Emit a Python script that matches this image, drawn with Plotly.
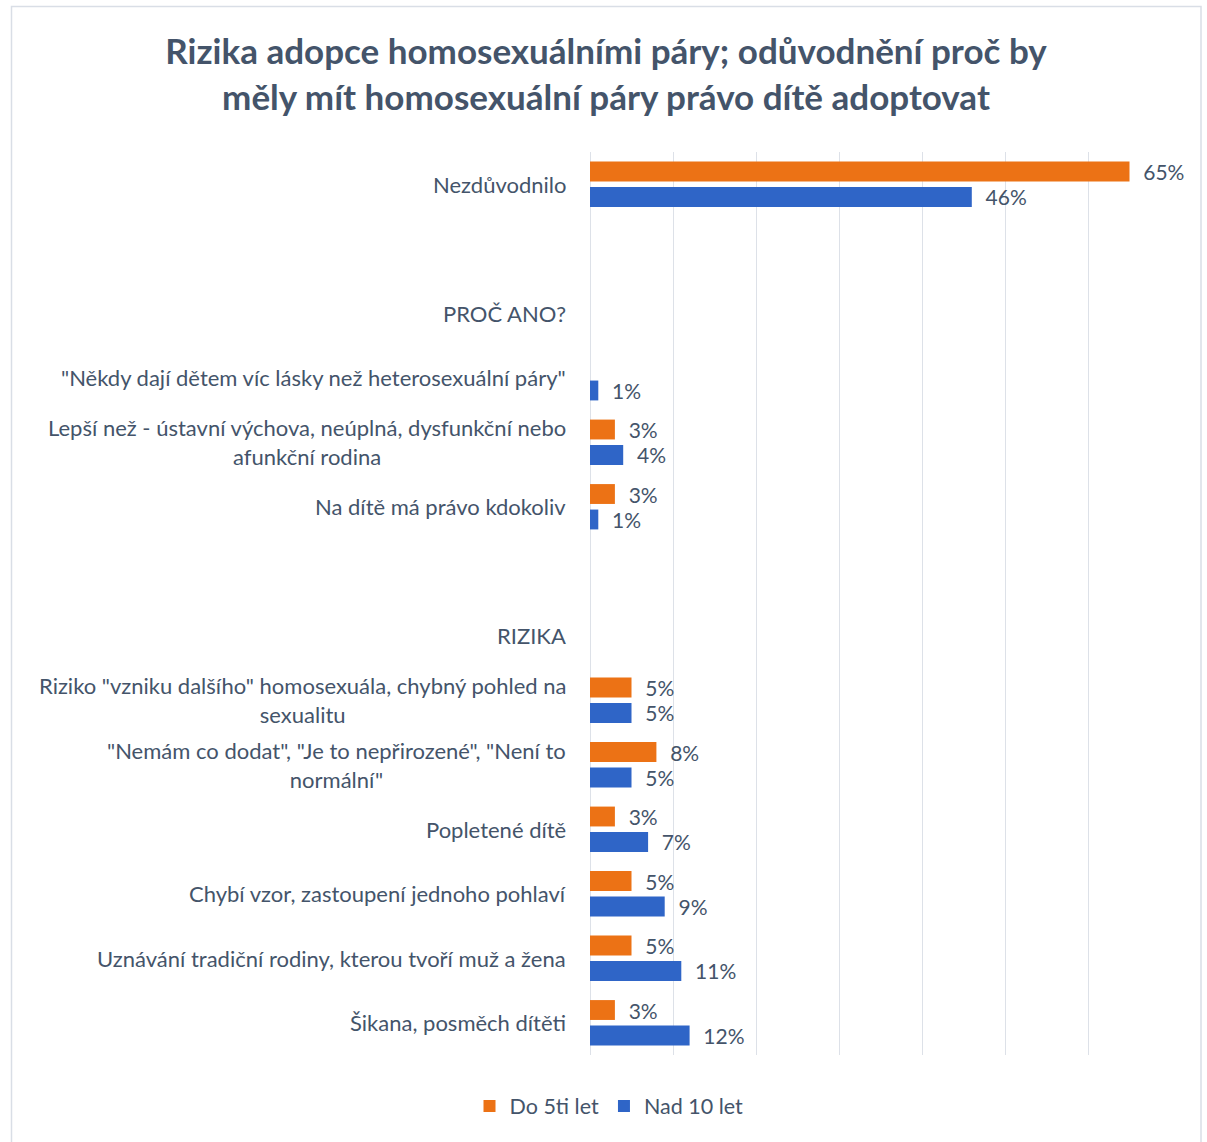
import plotly.graph_objects as go

categories = [
    "Nezdůvodnilo",
    " ",
    "PROČ ANO?",
    "\"Někdy dají dětem víc lásky než heterosexuální páry\"",
    "Lepší než - ústavní výchova, neúplná, dysfunkční nebo<br>afunkční rodina",
    "Na dítě má právo kdokoliv",
    "  ",
    "RIZIKA",
    "Riziko \"vzniku dalšího\" homosexuála, chybný pohled na<br>sexualitu",
    "\"Nemám co dodat\", \"Je to nepřirozené\", \"Není to<br>normální\"",
    "Popletené dítě",
    "Chybí vzor, zastoupení jednoho pohlaví",
    "Uznávání tradiční rodiny, kterou tvoří muž a žena",
    "Šikana, posměch dítěti",
]
do_5ti_let = [65, None, None, None, 3, 3, None, None, 5, 8, 3, 5, 5, 3]
nad_10_let = [46, None, None, 1, 4, 1, None, None, 5, 5, 7, 9, 11, 12]
series_names = ["Do 5ti let", "Nad 10 let"]

W, H = 1207, 1142
L, R, T, B = 590, 36, 152, 87
pw, ph = W - L - R, H - T - B

TEXT = "#44546A"
FONT = "Lato"

def labels(vals):
    return ["  %d%%" % v if v is not None else "" for v in vals]

fig = go.Figure()
for name, vals, col in [(series_names[0], do_5ti_let, "#EC7215"),
                        (series_names[1], nad_10_let, "#2F65C7")]:
    fig.add_trace(go.Bar(
        y=categories, x=vals, orientation="h", name=name,
        marker=dict(color=col, line=dict(width=0)),
        text=labels(vals), textposition="outside", cliponaxis=False,
        constraintext="none",
        textfont=dict(family=FONT, size=21, color=TEXT),
        hoverinfo="skip",
    ))

for c in categories:
    if c.strip():
        fig.add_annotation(x=0, xref="paper", y=c, yref="y", xanchor="right",
                           xshift=-22, text=c, showarrow=False, align="center",
                           font=dict(family=FONT, size=22, color=TEXT))

def px2x(px):
    return (px - L) / pw

def py2y(py):
    return 1 - (py - T) / ph

fig.add_shape(type="rect", xref="paper", yref="paper",
              x0=px2x(11.5), x1=px2x(1201), y0=py2y(1160), y1=py2y(6.5),
              line=dict(color="#D9DEE6", width=1.5), layer="below")

fig.update_layout(
    width=W, height=H,
    margin=dict(l=L, r=R, t=T, b=B),
    paper_bgcolor="white", plot_bgcolor="white",
    barmode="group", bargap=0.21, bargroupgap=0.22,
    title=dict(text="Rizika adopce homosexuálními páry; odůvodnění proč by<br>měly mít homosexuální páry právo dítě adoptovat",
               x=px2x(606), xref="paper", xanchor="center",
               y=1 - 64 / H, yanchor="middle",
               font=dict(family=FONT, size=35, color=TEXT, weight="bold")),
    xaxis=dict(range=[0, 70], dtick=10, showgrid=True, gridcolor="#DDE1E8",
               gridwidth=1.2, showticklabels=False, zeroline=True,
               zerolinecolor="#DDE1E8", zerolinewidth=1.2, fixedrange=True),
    yaxis=dict(autorange="reversed", showticklabels=False, showgrid=False,
               type="category", categoryarray=categories, categoryorder="array"),
    legend=dict(orientation="h", x=px2x(609), xanchor="center",
                y=py2y(1106), yanchor="middle",
                font=dict(family=FONT, size=21.5, color=TEXT),
                itemwidth=30, traceorder="normal"),
    showlegend=True,
)

fig.write_html("out.html", config={"displayModeBar": False},
               post_script="document.body.style.margin='0';document.body.style.overflow='hidden';")
